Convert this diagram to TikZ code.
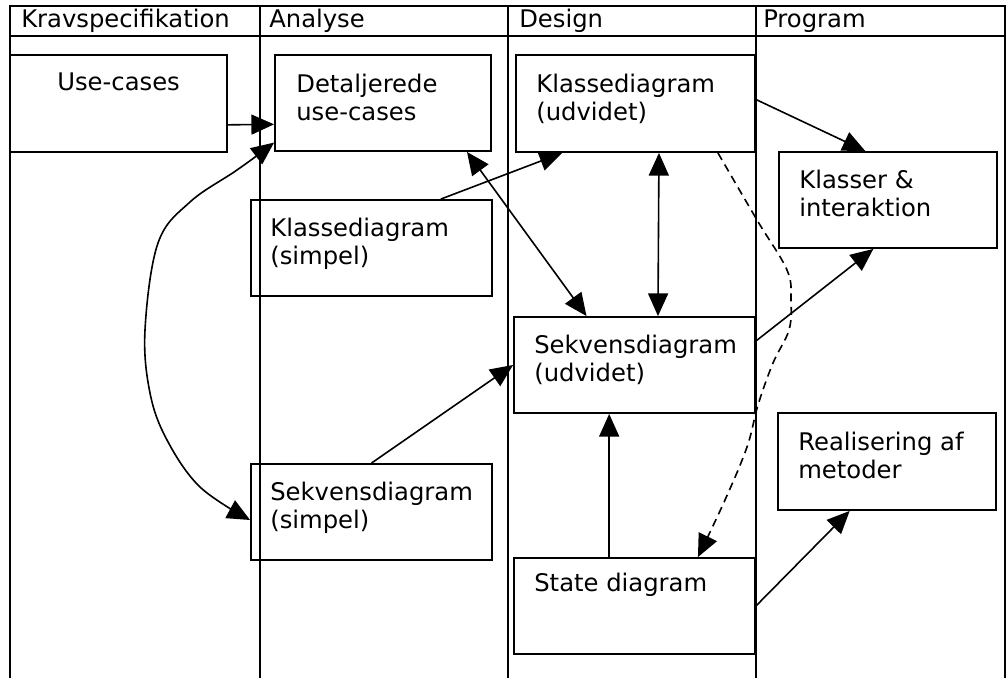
\documentclass[tikz,border=0pt]{standalone}
\usepackage{fontspec}
\setmainfont{DejaVu Sans}
\usetikzlibrary{positioning, fit, arrows.meta}

\begin{document}
\begin{tikzpicture}[
		x=0.75pt, y=-0.75pt,
		>={Triangle[length=17pt, width=15pt]},
		grid/.style={line width=1.6pt},
		box/.style={draw, rectangle, line width=1.4pt, inner sep=0pt},
		txt/.style={anchor=base west, align=left, inner sep=0pt, font=\fontsize{18.2}{21}\selectfont},
		arr/.style={->, line width=1.2pt},
		dblarr/.style={<->, line width=1.2pt},
	]
	\useasboundingbox (0,0) rectangle (1007,678);

	% table
	\draw[grid] (10,678) -- (10,6) -- (1005,6) -- (1005,678);
	\draw[grid] (10,36) -- (1005,36);
	\foreach \x in {260,508,756}
		\draw[grid] (\x,6) -- (\x,678);

	\node[txt] (krav) at (21,27) {Kravspecifikation};
	\node[txt] (analyse) at (269,27) {Analyse};
	\node[txt] (design) at (519,27) {Design};
	\node[txt] (program) at (763,27) {Program};

	% boxes (second line baseline 28 below the first)
	\node[box, fit={(10,55) (227,152)}] (uc) {};
	\node[txt] at ([shift={(48,36)}]uc.north west) {Use-cases};
	\node[box, fit={(275,55) (491,151)}] (dud) {};
	\node[txt] at ([shift={(22,66)}]dud.north west) {Detaljerede\\use-cases};
	\node[box, fit={(516,55) (755,152)}] (kud) {};
	\node[txt] at ([shift={(21,66)}]kud.north west) {Klassediagram\\(udvidet)};
	\node[box, fit={(251,200) (492,296)}] (ksimp) {};
	\node[txt] at ([shift={(20,65)}]ksimp.north west) {Klassediagram\\(simpel)};
	\node[box, fit={(251,464) (492,560)}] (ssimp) {};
	\node[txt] at ([shift={(20,65)}]ssimp.north west) {Sekvensdiagram\\(simpel)};
	\node[box, fit={(514,317) (755,413)}] (sud) {};
	\node[txt] at ([shift={(21,65)}]sud.north west) {Sekvensdiagram\\(udvidet)};
	\node[box, fit={(514,558) (755,654)}] (state) {};
	\node[txt] at ([shift={(21,34)}]state.north west) {State diagram};
	\node[box, fit={(779,152) (997,248)}] (klasser) {};
	\node[txt] at ([shift={(21,65)}]klasser.north west) {Klasser \&\\interaktion};
	\node[box, fit={(778,413) (996,510)}] (realis) {};
	\node[txt] at ([shift={(21,66)}]realis.north west) {Realisering af\\metoder};

	% connectors
	\draw[arr] ([yshift=-16pt]uc.east) -- ([yshift=-16pt]dud.west);
	\draw[dblarr] plot[smooth, tension=0.6] coordinates {([yshift=7pt]dud.south west) (237,170) (190,202) (158,243) (145,330) (150,393) (167,440) (200,487) ([yshift=-6pt]ssimp.west)};
	\draw[arr] ([xshift=52pt]ksimp.north) -- ([xshift=-55pt]kud.south);
	\draw[dblarr] ([xshift=63pt]dud.south) -- ([xshift=-36pt]sud.north);
	\draw[dblarr] ([xshift=17.6pt]kud.south) -- ([xshift=17.6pt]sud.north);
	\draw[arr] (ssimp.north) -- (sud.west);
	\draw[arr] ([xshift=-19pt]state.north) -- ([xshift=-19pt]sud.south);
	\draw[arr] ([yshift=3pt]kud.east) -- ([xshift=-17pt]klasser.north);
	\draw[arr] ([yshift=18pt]sud.east) -- ([xshift=-11pt]klasser.south);
	\draw[arr] (state.east) -- ([xshift=-28pt]realis.south);
	\draw[arr, dashed, dash pattern=on 6pt off 4pt] plot[smooth, tension=0.6] coordinates {([xshift=-28.5pt]kud.south east) (757,220) (787,270) (791,300) (789,330) (773,363) (758,405) (747,447) (725,500) ([xshift=-43.5pt]state.north east)};
\end{tikzpicture}
\end{document}
